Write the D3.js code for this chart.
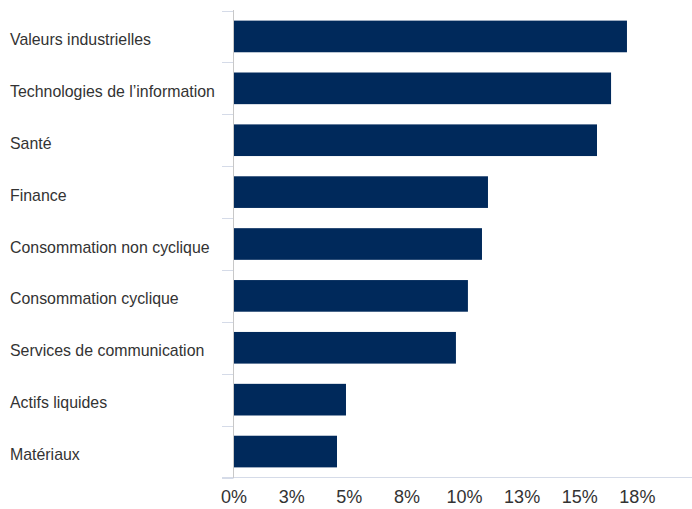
<!DOCTYPE html>
<html>
<head>
<meta charset="utf-8">
<script src="https://cdn.jsdelivr.net/npm/d3@7"></script>
<style>
  body { margin: 0; background: #fff; }
  text { font-family: "Liberation Sans", Arial, sans-serif; fill: #333; }
</style>
</head>
<body>
<div id="chart"></div>
<script>
// sector weights (%)
var sectors = ["Valeurs industrielles", "Technologies de l\u2019information", "Santé", "Finance",
  "Consommation non cyclique", "Consommation cyclique", "Services de communication",
  "Actifs liquides", "Matériaux"];
var weights = [17.07, 16.38, 15.77, 11.04, 10.78, 10.17, 9.65, 4.88, 4.49];
var tickValues = [0, 2.5, 5, 7.5, 10, 12.5, 15, 17.5];

var svgWidth = 692;
var svgHeight = 509;

var svg = d3.select("#chart")
  .append("svg")
  .attr("width", svgWidth)
  .attr("height", svgHeight);

var xScale = d3.scaleLinear()
  .domain([0, 20])
  .range([233.5, 694.5]);

var yScale = d3.scaleBand()
  .domain(sectors)
  .range([10.5, 477.5])
  .paddingInner(0.39)
  .paddingOuter(0.195);

// category separators
var step = yScale.step();
var sepY = d3.range(sectors.length + 1).map(i => 10.5 + i * step);
svg.append("g").selectAll("line")
  .data(sepY)
  .enter()
  .append("line")
  .attr("x1", 222)
  .attr("x2", 233.5)
  .attr("y1", d => Math.round(d) + 0.5)
  .attr("y2", d => Math.round(d) + 0.5)
  .attr("stroke", "#d5dbe8")
  .attr("stroke-width", 1);

// bars
svg.append("g").selectAll("rect")
  .data(weights)
  .enter()
  .append("rect")
  .attr("x", xScale(0) + 0.5)
  .attr("y", (d, i) => yScale(sectors[i]))
  .attr("width", d => xScale(d) - xScale(0) - 0.5)
  .attr("height", yScale.bandwidth())
  .attr("fill", "#00295b");

// baseline
svg.append("line")
  .attr("x1", 222)
  .attr("x2", svgWidth)
  .attr("y1", 477.5)
  .attr("y2", 477.5)
  .attr("stroke", "#d5dbe8");

// vertical axis line
svg.append("line")
  .attr("x1", 233.5)
  .attr("x2", 233.5)
  .attr("y1", 10)
  .attr("y2", 478)
  .attr("stroke", "#c8c8c8");

// category labels
svg.append("g").selectAll("text")
  .data(sectors)
  .enter()
  .append("text")
  .attr("x", 10)
  .attr("y", d => yScale(d) + yScale.bandwidth() / 2 + 3)
  .attr("dy", "0.35em")
  .style("font-size", "15.9px")
  .text(d => d);

// x axis
var bottomAxis = d3.axisBottom(xScale)
  .tickValues(tickValues)
  .tickSize(0)
  .tickPadding(0)
  .tickFormat(d => Math.round(d) + "%");

var xAxis = svg.append("g")
  .attr("transform", "translate(0, 490)")
  .call(bottomAxis);
xAxis.select(".domain").remove();
xAxis.selectAll("text")
  .attr("dy", "0.71em")
  .style("font-size", "18px")
  .style("font-family", "Liberation Sans, Arial, sans-serif")
  .attr("fill", "#333");
</script>
</body>
</html>
